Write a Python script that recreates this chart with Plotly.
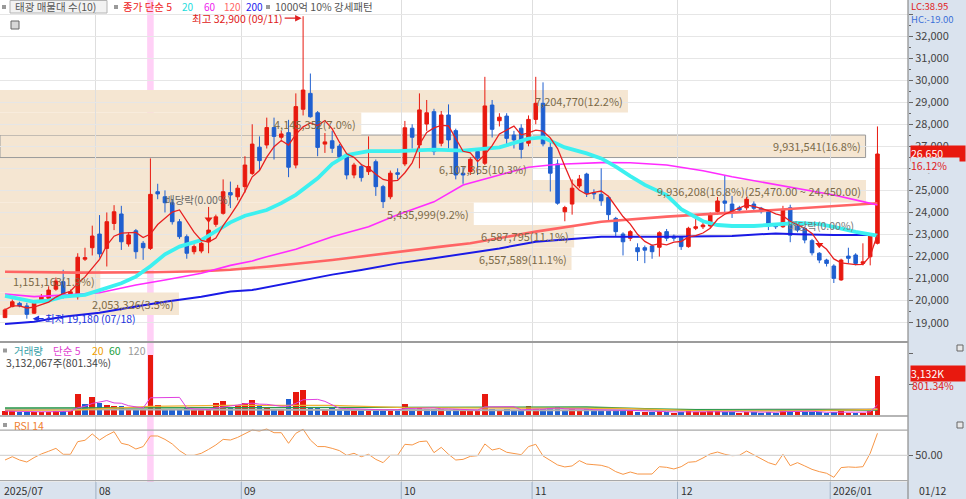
import pandas as pd
import plotly.graph_objects as go

# ---- daily candles, 2025/07/15 .. 2026/01/12 (121 trading days, x = bar index)
opens = [19230, 19730, 19880, 19760, 19430, 19950, 20110, 20520, 20860, 20250,
         20180, 21880, 22400, 23020, 22370, 23500, 23930, 22570, 23170, 22600,
         22370, 24940, 24710, 24440, 23580, 22900, 22220, 22250, 22670, 23460,
         23960, 24900, 24710, 25170, 25770, 26960, 27060, 27850, 27410, 27620,
         26150, 28680, 29400, 28520, 27100, 27250, 27010, 26560, 25700, 26080,
         25850, 26300, 25170, 24710, 25800, 26200, 27820, 27060, 28010, 28570,
         27140, 28420, 27710, 25780, 25850, 26760, 26230, 28870, 28160, 28370,
         27510, 27820, 27140, 28220, 28950, 26950, 26200, 24030, 24380, 25200,
         25740, 24900, 24820, 24680, 23730, 23020, 22830, 22400, 22400, 22480,
         22420, 23130, 22920, 22870, 22450, 23280, 23350, 23390, 24040, 24520,
         24380, 24210, 24210, 24380, 24190, 24030, 23460, 23350, 24210, 23380,
         23280, 22720, 22150, 21840, 21570, 20940, 22020, 22070, 21690, 21990,
         22600]
highs = [19650, 20050, 19950, 19900, 19950, 20300, 20650, 21050, 21400, 20500,
         22150, 22400, 23400, 23880, 24000, 24330, 24300, 23100, 23250, 22700,
         26450, 25300, 25000, 24600, 23700, 23000, 22550, 22800, 24250, 23900,
         25500, 25400, 25250, 26550, 28000, 27450, 28300, 28300, 27700, 28200,
         29400, 32900, 30300, 28600, 27600, 27700, 27100, 26700, 26250, 26200,
         27450, 26400, 25250, 25900, 26000, 28150, 28000, 29400, 29100, 28700,
         28600, 28900, 27800, 26100, 26500, 26900, 30150, 29100, 28500, 28500,
         27700, 28000, 28400, 30150, 29900, 27200, 26400, 24300, 25500, 25700,
         25800, 25050, 26000, 24750, 23800, 23100, 23200, 22600, 22500, 22550,
         23150, 23250, 23000, 22900, 23350, 23750, 23600, 24000, 24700, 25690,
         24750, 24300, 24700, 24500, 24250, 24100, 23500, 24300, 24350, 23450,
         23350, 22800, 22200, 21900, 21650, 21900, 22400, 22150, 22600, 23000,
         27900]
lows = [19220, 19700, 19700, 19180, 19400, 19900, 19950, 20450, 20100, 20150,
        20050, 21800, 22050, 21950, 21550, 23200, 22300, 22450, 21900, 21850,
        22300, 24600, 24000, 23450, 22800, 21900, 22100, 22150, 22150, 23350,
        23900, 24200, 24550, 24900, 25700, 25900, 26900, 26400, 27300, 25600,
        26000, 28400, 28300, 26550, 26700, 26700, 26400, 25500, 25550, 25400,
        25700, 24750, 24200, 24600, 25500, 26100, 26900, 26000, 27700, 26600,
        27000, 26900, 25500, 25300, 25700, 25700, 26150, 27400, 27900, 27100,
        26900, 26450, 27000, 28000, 27000, 24950, 24350, 23600, 23900, 25100,
        24700, 24600, 24300, 23650, 22900, 22050, 22700, 21800, 21700, 21900,
        22000, 22700, 22700, 22300, 22400, 23200, 23250, 23300, 23900, 23950,
        23750, 24000, 24100, 24100, 23950, 23200, 23250, 23300, 22650, 23100,
        22600, 22050, 21700, 21550, 20800, 20900, 21700, 21600, 21600, 21600,
        22550]
closes = [19580, 19950, 19760, 19380, 19880, 20180, 20480, 20890, 20180, 20400,
          21970, 21950, 22930, 22120, 23580, 24030, 22670, 22980, 22220, 22400,
          24820, 24840, 24440, 23580, 22900, 22150, 22450, 22600, 23200, 23800,
          24940, 24790, 25100, 26150, 27100, 26350, 27850, 27450, 27560, 26050,
          28800, 29550, 28340, 26950, 27200, 26910, 26530, 25700, 26150, 25580,
          26080, 25170, 24490, 25780, 25730, 27840, 27410, 28650, 28520, 26760,
          28420, 27290, 25700, 25700, 26410, 26460, 28830, 27770, 28320, 27360,
          27290, 26860, 28220, 28950, 27110, 25780, 24420, 24220, 25100, 25520,
          24870, 24840, 24530, 23900, 23130, 22670, 23130, 22220, 22290, 22220,
          23080, 22830, 22830, 22450, 23280, 23350, 23430, 23880, 24520, 24420,
          24040, 24110, 24600, 24190, 24040, 23500, 23350, 24140, 22970, 23200,
          22750, 22170, 21840, 21690, 21010, 21840, 21920, 21690, 21760, 22950,
          26650]
volumes = [325000, 325000, 216000, 216000, 270000, 270000, 270000, 325000, 325000, 325000,
           1680000, 866000, 1490000, 1000000, 811000, 730000, 730000, 487000, 487000, 406000,
           4870000, 811000, 487000, 487000, 487000, 595000, 406000, 406000, 406000, 1000000,
           1160000, 676000, 811000, 947000, 1220000, 757000, 595000, 487000, 487000, 1300000,
           1840000, 2060000, 570000, 570000, 490000, 570000, 490000, 490000, 400000, 400000,
           460000, 460000, 400000, 460000, 350000, 920000, 460000, 570000, 510000, 460000,
           514000, 430000, 490000, 350000, 400000, 350000, 1700000, 460000, 400000, 460000,
           350000, 400000, 730000, 460000, 460000, 568000, 622000, 406000, 514000, 406000,
           460000, 350000, 430000, 400000, 350000, 400000, 300000, 270000, 216000, 243000,
           350000, 270000, 190000, 243000, 325000, 243000, 216000, 300000, 325000, 270000,
           243000, 190000, 243000, 216000, 190000, 270000, 190000, 487000, 350000, 216000,
           243000, 243000, 216000, 190000, 243000, 350000, 190000, 190000, 190000, 350000,
           3132067]
rsi14 = [46.3, 48.9, 46.3, 44.7, 48.2, 51.1, 53.2, 55.5, 50.8, 50.8,
         60.8, 61.9, 66.9, 62.1, 65.8, 68.7, 59.5, 58.2, 55.0, 56.9,
         65.3, 65.3, 62.6, 59.0, 53.7, 50.0, 50.0, 51.6, 54.7, 58.2,
         62.6, 62.1, 64.2, 67.4, 70.0, 69.2, 70.8, 67.9, 67.9, 59.5,
         67.4, 70.6, 62.1, 56.9, 56.9, 55.5, 53.7, 50.0, 51.6, 48.9,
         50.8, 46.8, 44.2, 50.0, 50.0, 58.7, 58.2, 60.8, 61.3, 52.1,
         56.3, 50.8, 46.3, 46.8, 49.2, 49.7, 59.0, 54.2, 55.5, 52.4,
         51.6, 50.5, 56.9, 58.7, 49.5, 46.0, 42.4, 40.8, 41.6, 45.8,
         43.1, 42.6, 42.1, 40.5, 37.1, 35.0, 36.8, 35.2, 35.0, 35.2,
         41.0, 40.5, 39.2, 41.0, 44.5, 45.0, 47.9, 51.1, 52.6, 50.8,
         49.7, 50.0, 53.4, 50.5, 47.6, 44.2, 42.4, 50.8, 41.8, 44.2,
         41.6, 38.9, 37.1, 35.8, 32.6, 40.3, 40.8, 40.5, 41.0, 51.6,
         67.4]

# longer price averages (bar index, value)
ma20_idx = [0, 4, 6, 8, 11, 13, 16, 18, 20, 22, 24, 27, 29, 31, 33, 36, 38, 40, 43, 45, 47, 50,
            54, 59, 63, 68, 72, 74, 77, 80, 82, 84, 86, 88, 91, 93, 96, 98, 100, 103, 105, 109,
            112, 114, 117, 120]
ma20_val = [20220, 19950, 20000, 20180, 20260, 20480, 20790, 21090, 21560, 22100, 22450, 22750,
            23130, 23550, 23850, 24110, 24420, 24800, 25550, 26200, 26600, 26780, 26780, 26850,
            26800, 26950, 27350, 27400, 26950, 26680, 26450, 26080, 25650, 25250, 24790, 24150,
            23600, 23430, 23385, 23385, 23430, 23530, 23470, 23350, 23120, 22950]
ma60_idx = [0, 4, 8, 13, 18, 20, 22, 27, 31, 34, 36, 40, 45, 50, 54, 59, 63, 68, 72, 75, 77,
            82, 86, 91, 96, 100, 105, 109, 114, 118, 120]
ma60_val = [20300, 20180, 20250, 20360, 20710, 20810, 20940, 21240, 21600, 21800, 21990, 22330,
            22900, 23350, 23900, 24480, 25240, 25700, 26050, 26150, 26200, 26260, 26256, 26150,
            25890, 25620, 25320, 25100, 24790, 24490, 24340]
ma120_idx = [0, 10, 20, 27, 31, 36, 45, 54, 60, 64, 73, 82, 86, 91, 100, 109, 120]
ma120_val = [21310, 21270, 21290, 21330, 21400, 21540, 21840, 22220, 22450, 22600, 23130, 23580,
             23690, 23810, 23990, 24190, 24420]
ma200_idx = [0, 4, 8, 13, 18, 22, 27, 31, 34, 40, 45, 49, 54, 59, 63, 68, 73, 77, 82, 91, 100,
             106, 109, 114, 120]
ma200_val = [18940, 19045, 19270, 19450, 19730, 19950, 20180, 20410, 20480, 20880, 21180, 21390,
             21690, 21920, 22110, 22370, 22670, 22780, 22900, 22900, 22930, 23050, 23010, 22980,
             22980]

# volume averages
vma20_idx = [0, 10, 20, 30, 45, 55, 70, 85, 95, 110, 120]
vma20_val = [380000, 420000, 700000, 780000, 780000, 600000, 560000, 540000, 360000, 330000, 460000]
vma60_idx = [0, 30, 40, 80, 88, 95, 120]
vma60_val = [568000, 600000, 650000, 650000, 514000, 430000, 406000]
vma120_idx = [0, 40, 80, 100, 120]
vma120_val = [460000, 400000, 380000, 430000, 460000]

# 태광 매물대 (10 price bands of 1,020 won)
band_low = [19350, 20370, 21390, 22410, 23430, 24450, 25470, 26490, 27510, 28530]
band_vol = [2053326, 1151163, 6557589, 6587795, 5435999, 9936208, 6107365, 9931541, 4145352, 7204770]
band_pct = [3.5, 1.9, 11.1, 11.1, 9.2, 16.8, 10.3, 16.8, 7.0, 12.2]

price_ticks = [19000, 20000, 21000, 22000, 23000, 24000, 25000, 26000, 27000, 28000, 29000,
               30000, 31000, 32000]
month_pos = [12.5, 32.5, 54.5, 72.5, 92.5, 113.5]
month_lbl = ["08", "09", "10", "11", "12", "2026/01"]
exdiv_idx = 20
signal_idx = [28, 112]
signal_price = [23690, 22530]

RED = "#e8190f"
BLUE = "#1f5fd0"
BEIGE = "#f5e6d2"
AXIS_BG = "#dae3ee"
FONT = "Noto Sans CJK KR"

PLOT_W, PLOT_H = 908, 482
X_MIN, X_MAX = -0.69, 124.2
BAR_PX = PLOT_W / (X_MAX - X_MIN)


def px(x):
    return x / PLOT_W


def py(y):
    return (PLOT_H - y) / PLOT_H


def label(text, x, y, color, size=10, xanchor="left", **kw):
    return dict(text=text, x=px(x), y=py(y), xref="paper", yref="paper", showarrow=False,
                xanchor=xanchor, yanchor="middle", font=dict(color=color, size=size), **kw)


idx = list(range(len(closes)))
close_s = pd.Series(closes)
ma5 = close_s.rolling(5, min_periods=1).mean()
vol_s = pd.Series(volumes)
vma5 = vol_s.rolling(5, min_periods=1).mean()
vol_colors = [RED if i == 0 or closes[i] >= closes[i - 1] else BLUE for i in idx]

fig = go.Figure()

fig.add_trace(go.Candlestick(
    x=idx, open=opens, high=highs, low=lows, close=closes,
    increasing=dict(line=dict(color=RED, width=1), fillcolor=RED),
    decreasing=dict(line=dict(color=BLUE, width=1), fillcolor=BLUE),
    whiskerwidth=0, xaxis="x", yaxis="y", hoverinfo="skip"))

for xs, ys, color, width in [
        (ma120_idx, ma120_val, "#ff6464", 2.6),
        (ma200_idx, ma200_val, "#1a1ae6", 2),
        (ma60_idx, ma60_val, "#ff2cff", 1.6),
        (ma20_idx, ma20_val, "#3cf0f0", 3.8),
        (idx, ma5, "#e82020", 1.3)]:
    fig.add_trace(go.Scatter(x=xs, y=ys, mode="lines", line=dict(color=color, width=width),
                             xaxis="x", yaxis="y", hoverinfo="skip"))

fig.add_trace(go.Scatter(x=signal_idx, y=signal_price, mode="markers",
                         marker=dict(symbol="triangle-down", size=7, color=RED),
                         xaxis="x", yaxis="y", hoverinfo="skip"))

# volume panel
fig.add_trace(go.Bar(x=idx, y=volumes, marker=dict(color=vol_colors, line=dict(width=0)),
                     width=0.78, xaxis="x", yaxis="y2", hoverinfo="skip"))
for xs, ys, color, width in [
        (vma120_idx, vma120_val, "#b0b0b0", 2),
        (vma60_idx, vma60_val, "#2a9a4a", 1.3),
        (vma20_idx, vma20_val, "#f0b030", 1.3),
        (idx, vma5, "#e040e0", 1)]:
    fig.add_trace(go.Scatter(x=xs, y=ys, mode="lines", line=dict(color=color, width=width),
                             xaxis="x", yaxis="y2", hoverinfo="skip"))

# RSI panel
fig.add_trace(go.Scatter(x=idx, y=rsi14, mode="lines", line=dict(color="#f79646", width=1),
                         xaxis="x", yaxis="y3", hoverinfo="skip"))

shapes = []
annotations = []

# right price scale and bottom date strip
shapes.append(dict(type="rect", xref="paper", yref="paper", x0=1, x1=966 / PLOT_W,
                   y0=-17 / PLOT_H, y1=1, fillcolor=AXIS_BG, line=dict(width=0), layer="below"))
shapes.append(dict(type="rect", xref="paper", yref="paper", x0=0, x1=1,
                   y0=-17 / PLOT_H, y1=0, fillcolor=AXIS_BG, line=dict(width=0), layer="below"))
shapes.append(dict(type="line", xref="paper", yref="paper", x0=1, x1=1, y0=-17 / PLOT_H, y1=1,
                   line=dict(color="#8c8c8c", width=1.2)))

# ex-dividend day highlight
shapes.append(dict(type="rect", xref="x", yref="paper", x0=exdiv_idx - 0.45, x1=exdiv_idx + 0.45,
                   y0=0, y1=1, fillcolor="#ffd0f6", line=dict(width=0), layer="below"))

# volume profile bands
max_band = max(band_vol)
for lo, vol, pct in zip(band_low, band_vol, band_pct):
    hi = lo + 1020
    right = X_MIN + (866 * vol / max_band) / BAR_PX
    border = dict(color="#9a9a9a", width=1) if lo <= closes[-1] < hi else dict(width=0)
    shapes.append(dict(type="rect", xref="x", yref="y", x0=X_MIN, x1=right, y0=lo, y1=hi,
                       fillcolor=BEIGE, line=border, layer="below"))
    text = f"{vol:,}({pct:.1f}%)"
    if vol == max_band:
        text += f"({hi:,}.00 ~ {lo:,}.00)"
    annotations.append(dict(text=text, x=right, y=(lo + hi) / 2, xref="x", yref="y",
                            showarrow=False, xanchor="right", yanchor="middle", xshift=-3,
                            font=dict(color="#7c6a48", size=11)))

# panel separators and RSI guide lines
for y, w in [(342, 2), (416, 1.5)]:
    shapes.append(dict(type="line", xref="paper", yref="paper", x0=0, x1=1, y0=py(y), y1=py(y),
                       line=dict(color="#9c9c9c", width=w)))
for level, color in [(70, "#a8a8a8"), (50, "#d6d6d6"), (30, "#a8a8a8")]:
    shapes.append(dict(type="line", xref="paper", yref="y3", x0=0, x1=1, y0=level, y1=level,
                       line=dict(color=color, width=1.2)))
for m in month_pos:
    shapes.append(dict(type="line", xref="x", yref="paper", x0=m, x1=m, y0=-17 / PLOT_H, y1=0,
                       line=dict(color="#9fb0c4", width=1)))

# header squares and icons
for x in [2, 114, 266]:
    shapes.append(dict(type="rect", xref="paper", yref="paper", x0=px(x), x1=px(x + 4),
                       y0=py(9), y1=py(5), fillcolor="#9a9a9a", line=dict(width=0)))
for y in [350.5, 425]:
    shapes.append(dict(type="rect", xref="paper", yref="paper", x0=px(3), x1=px(7),
                       y0=py(y + 2), y1=py(y - 2), fillcolor="#9a9a9a", line=dict(width=0)))
shapes.append(dict(type="rect", xref="paper", yref="paper", x0=px(10), x1=px(107),
                   y0=py(13), y1=py(0.5), fillcolor="#f2f2f2", line=dict(color="#b4b4b4", width=1)))
shapes.append(dict(type="rect", xref="paper", yref="paper", x0=px(11), x1=px(19),
                   y0=py(29), y1=py(21), fillcolor="#d8d8d8", line=dict(color="#666666", width=1)))
for y in [348, 425]:
    shapes.append(dict(type="rect", xref="paper", yref="paper", x0=px(957), x1=px(963),
                       y0=py(y + 3), y1=py(y - 3), fillcolor="#e8e8e8",
                       line=dict(color="#666666", width=1)))

# header texts
annotations += [
    label("태광 매물대 수(10)", 13, 7, "#555555", size=10.5),
    label("종가 단순 5", 121, 7, "#ee2222", size=10.5),
    label("20", 180, 7, "#22dcdc"),
    label("60", 202, 7, "#ee22ee"),
    label("120", 222, 7, "#ff6464"),
    label("200", 244, 7, "#2222ee"),
    label("1000억 10% 강세패턴", 273, 7, "#555555", size=10.5),
    label("LC:38.95", 909, 6.5, "#e02020", size=9.5),
    label("HC:-19.00", 909, 19.5, "#3a6fd8", size=9.5),
    label("26,650", 910, 153, "white", size=10.5, bgcolor=RED, width=54, align="left",
          borderpad=0),
    label("16.12%", 910, 165.5, "#e02020", size=10.5, bgcolor=AXIS_BG, width=48, align="left",
          borderpad=0),
    label("거래량", 12, 350.5, "#35a0a8", size=10.5),
    label("단순 5", 51, 350.5, "#e040d0", size=10.5),
    label("20", 90, 350.5, "#f0a000", size=10.5),
    label("60", 107, 350.5, "#20a040", size=10.5),
    label("120", 126, 350.5, "#999999", size=10.5),
    label("3,132,067주(801.34%)", 4, 362.5, "#444444", size=10.5),
    label("3,132K", 910, 373.5, "white", size=10.5, bgcolor=RED, width=54, align="left",
          borderpad=0),
    label("801.34%", 910, 385, "#e02020", size=10.5),
    label("RSI 14", 12, 425, "#f08030", size=10.5),
    label("배당락(0.00%)", 163, 199, "#666666", size=10.5),
    label("배당락(0.00%)", 786, 225, "#777777", size=10.5),
    label("2025/07", 2, 491, "#333333", size=10.5),
    label("01/12", 917, 491, "#333333", size=10.5),
]
for m, t in zip(month_pos, month_lbl):
    annotations.append(dict(text=t, x=m, y=py(491), xref="x", yref="paper", showarrow=False,
                            xanchor="left", yanchor="middle", xshift=1,
                            font=dict(color="#333333", size=10.5)))

# high / low markers
hi_i = highs.index(max(highs))
lo_i = lows.index(min(lows))
annotations.append(dict(text=f"최고 {max(highs):,} (09/11)", x=hi_i - 0.2, y=max(highs),
                        xref="x", yref="y", showarrow=True, arrowhead=2, arrowsize=1,
                        arrowwidth=1.3, arrowcolor="#e02020", ax=-64, ay=0, yshift=-2,
                        font=dict(color="#e02020", size=10.5)))
annotations.append(dict(text=f"최저 {min(lows):,} (07/18)", x=lo_i + 0.8, y=min(lows),
                        xref="x", yref="y", showarrow=True, arrowhead=2, arrowsize=1,
                        arrowwidth=1.3, arrowcolor="#2233dd", ax=58, ay=0,
                        font=dict(color="#2233dd", size=10.5)))

fig.update_layout(
    width=966, height=499,
    margin=dict(l=0, r=58, t=0, b=17),
    paper_bgcolor="white", plot_bgcolor="white",
    showlegend=False,
    font=dict(family=FONT, size=11, color="#444444"),
    shapes=shapes, annotations=annotations,
    xaxis=dict(domain=[0, 1], range=[X_MIN, X_MAX], anchor="y3", tickvals=month_pos,
               showticklabels=False, showgrid=True, gridcolor="#dedede", zeroline=False,
               ticks="", rangeslider=dict(visible=False), fixedrange=True),
    yaxis=dict(domain=[(PLOT_H - 341.5) / PLOT_H, 1], range=[18147, 33635], side="right",
               anchor="x", tickvals=price_ticks + [33000],
               ticktext=[f"{v:,}" for v in price_ticks] + [""],
               showgrid=True, gridcolor="#e6e6e6", zeroline=False, ticks="outside",
               ticklen=4, tickcolor="#666666", tickfont=dict(size=11, color="#444444"),
               minor=dict(tickvals=[v + 500 for v in price_ticks], ticks="outside",
                          ticklen=2, tickcolor="#666666", showgrid=False)),
    yaxis2=dict(domain=[(PLOT_H - 415) / PLOT_H, (PLOT_H - 343) / PLOT_H], range=[0, 5.84e6],
                side="right", anchor="x", showgrid=False, zeroline=False, ticks="outside",
                ticklen=4, tickcolor="#666666", tickvals=[2.5e6, 5e6], showticklabels=False),
    yaxis3=dict(domain=[0, (PLOT_H - 416.5) / PLOT_H], range=[28.9, 80.7], side="right",
                anchor="x", showgrid=False, zeroline=False, ticks="outside", ticklen=4,
                tickcolor="#666666", tickvals=[50], ticktext=["50.00"],
                tickfont=dict(size=11, color="#444444")),
    bargap=0,
)

# the page's default body margin would push the figure off the 966x499 window
fig.write_html("out.html", config={"displayModeBar": False},
               post_script="document.body.style.margin='0';document.body.style.overflow='hidden';")
